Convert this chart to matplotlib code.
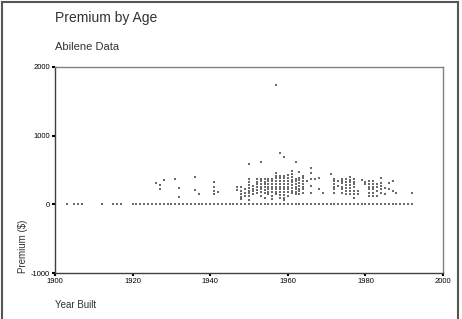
import matplotlib
matplotlib.use('Agg')
import matplotlib.pyplot as plt
from matplotlib.patches import Rectangle

plt.rcParams['font.family'] = ['Liberation Sans', 'DejaVu Sans']

# homes with no premium recorded (plotted at 0)
zero_years = [1903, 1905, 1906, 1907, 1912, 1915, 1916, 1917,
              1920, 1921, 1922, 1923, 1924, 1925, 1926, 1927, 1928, 1929,
              1930, 1931, 1932, 1933, 1934, 1935, 1936, 1937, 1938, 1939,
              1940, 1941, 1942, 1943, 1944, 1945, 1946, 1947, 1948, 1949,
              1950, 1951, 1952, 1953, 1954, 1955, 1956, 1957, 1958, 1959,
              1960, 1961, 1962, 1963, 1964, 1965, 1966, 1967, 1968, 1969,
              1970, 1971, 1972, 1973, 1974, 1975, 1976, 1977, 1978, 1979,
              1980, 1981, 1982, 1983, 1984, 1985, 1986, 1987, 1988, 1989,
              1990, 1991, 1992]

# premiums, one list per year built
col_years = [1926, 1927, 1928, 1931, 1932, 1936, 1937, 1941, 1942, 1947,
             1948, 1949, 1950, 1951, 1952, 1953, 1954, 1955, 1956, 1957,
             1958, 1959, 1960, 1961, 1962, 1963, 1964, 1965, 1966, 1967,
             1968, 1969, 1971, 1972, 1973, 1974, 1975, 1976, 1977, 1978,
             1979, 1980, 1981, 1982, 1983, 1984, 1985, 1986, 1987, 1988,
             1992]
col_values = [
    [316], [281, 228], [349], [364], [243, 112], [393, 208], [150],
    [325, 250, 200, 150], [179], [258, 213],
    [250, 200, 150, 110, 80],
    [220, 170, 120],
    [587, 364, 320, 280, 240, 200, 160, 121, 60],
    [267, 230, 190, 146],
    [364, 330, 290, 250, 210, 170],
    [616, 374, 340, 300, 260, 220, 180, 121],
    [364, 330, 290, 250, 210, 170, 100],
    [374, 340, 300, 260, 220, 180, 146],
    [374, 340, 300, 260, 220, 180, 121, 73],
    [1737, 461, 420, 380, 340, 300, 260, 220, 180, 146],
    [752, 413, 380, 340, 300, 260, 220, 180, 140, 97],
    [694, 413, 380, 340, 300, 260, 220, 180, 140, 100, 58],
    [422, 380, 340, 300, 260, 220, 180, 121],
    [485, 440, 400, 360, 320, 280, 240, 200, 170],
    [616, 374, 340, 300, 260, 220, 180, 146],
    [471, 388, 350, 310, 270, 230, 190, 146],
    [413, 380, 340, 300, 260, 220, 170],
    [340],
    [534, 461, 364, 267, 170],
    [374],
    [388, 218],
    [170],
    [437],
    [374, 340, 300, 260, 218, 170],
    [340, 267],
    [374, 340, 315, 260, 218, 170],
    [364, 320, 280, 240, 200, 146],
    [403, 360, 320, 280, 240, 200, 146],
    [374, 330, 290, 250, 200, 150, 97],
    [194, 146],
    [354],
    [325, 291],
    [340, 300, 260, 220, 170, 121],
    [340, 300, 260, 220, 170, 121],
    [291, 250, 200, 121],
    [379, 316, 270, 220, 170],
    [243, 146],
    [316, 228],
    [340, 194],
    [170],
    [170],
]

xs = []
ys = []
for yr, vals in zip(col_years, col_values):
    for v in vals:
        xs.append(yr)
        ys.append(v)

fig = plt.figure(figsize=(4.62, 3.19), dpi=100)
fig.patches.append(Rectangle((0.004, -0.01), 0.988, 1.004, transform=fig.transFigure,
                             fill=False, edgecolor='#555555', linewidth=1.5))

ax = fig.add_axes([0.119, 0.144, 0.840, 0.646])
ax.scatter(zero_years, [0] * len(zero_years), marker='s', s=3.5, color='#6a6a6a', linewidths=0)
ax.scatter(xs, ys, marker='s', s=3.5, color='#6a6a6a', linewidths=0)

ax.set_xlim(1900, 2000)
ax.set_ylim(-1000, 2000)
ax.set_xticks([1900, 1920, 1940, 1960, 1980, 2000])
ax.set_yticks([-1000, 0, 1000, 2000])
ax.set_yticklabels(['-1000', '0', '1000', '2000'])
ax.tick_params(axis='both', direction='out', length=2, width=1.5, labelsize=5.5, pad=1.5)

for side in ['top', 'right']:
    ax.spines[side].set_color('#808080')
for side in ['left', 'bottom']:
    ax.spines[side].set_color('#404040')
for s in ax.spines.values():
    s.set_linewidth(1)

fig.text(0.119, 0.943, 'Premium by Age', fontsize=10, color='#333333', va='center')
fig.text(0.119, 0.853, 'Abilene Data', fontsize=8, color='#333333', va='center')
fig.text(0.119, 0.043, 'Year Built', fontsize=7, color='#333333', va='center')
fig.text(0.05, 0.144, 'Premium ($)', fontsize=7, color='#333333', rotation=90,
         ha='center', va='bottom')

fig.savefig('out.png', dpi=100)
